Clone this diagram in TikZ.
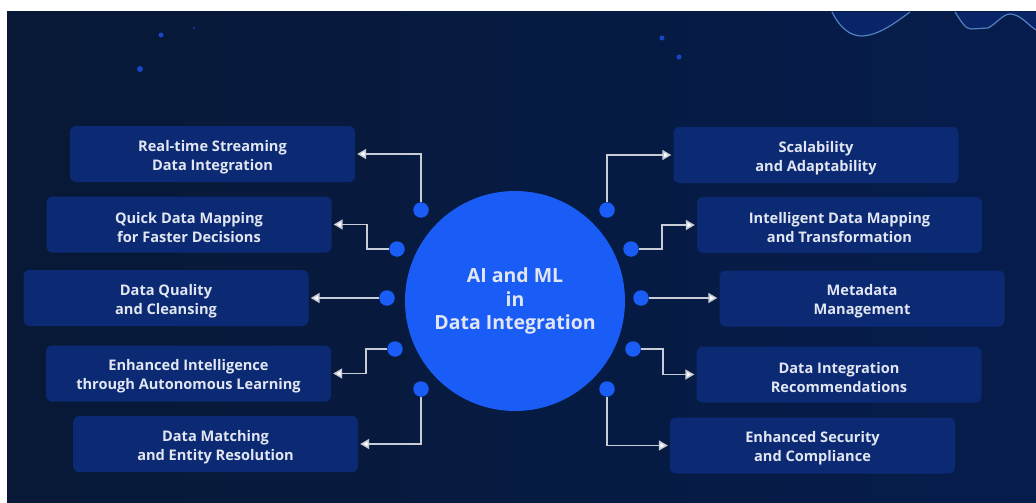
\documentclass[tikz,border=0pt]{standalone}
\usepackage{fontspec}
\setmainfont{Open Sans}
\usetikzlibrary{arrows.meta,calc}
\definecolor{bgL}{RGB}{7,25,54}
\definecolor{bgR}{RGB}{6,28,76}
\definecolor{hub}{RGB}{26,92,246}
\definecolor{boxc}{RGB}{12,42,115}
\definecolor{linec}{RGB}{200,204,214}
\definecolor{txt}{RGB}{225,230,242}
\definecolor{wavefill}{RGB}{10,36,104}
\definecolor{wavec}{RGB}{80,130,190}
\definecolor{star}{RGB}{25,70,200}
\tikzset{
  x=1pt, y=-1pt,
  infobox/.style={rounded corners=6pt, fill=boxc, minimum width=285pt, minimum height=56pt, inner sep=0pt},
  boxtext/.style={align=center, text=txt, font=\fontsize{14.6}{19}\selectfont\bfseries, inner sep=0pt, yshift=-3pt},
  hubnode/.style={circle, fill=hub, minimum size=220pt, inner sep=0pt, align=center,
    text=txt, font=\fontsize{19.5}{23.5}\selectfont\bfseries},
  dotnode/.style={circle, fill=hub, minimum size=15.5pt, inner sep=0pt},
  conn/.style={draw=linec, line width=1.5pt, -{Triangle[length=9pt,width=10pt,fill=white]}, shorten >=2pt}
}
\begin{document}
\begin{tikzpicture}
\useasboundingbox (0,0) rectangle (1036,503);
\fill[white] (0,0) rectangle (1036,503);
\shade[left color=bgL, right color=bgR] (7,12) rectangle (1036,503);
% top-right waves
\fill[wavefill] (832,12) .. controls (840,28) and (850,36) .. (862,36) .. controls (880,35) and (896,22) .. (910,12) -- cycle;
\fill[wavefill] (955,12) .. controls (961,21) and (965,29) .. (971,29) -- (988,28)
  .. controls (996,24) and (1003,14) .. (1010,14) .. controls (1020,14) and (1028,25) .. (1036,30) -- (1036,12) -- cycle;
\draw[draw=wavec, line width=1.2pt]
  (832,12) .. controls (840,28) and (850,36) .. (862,36) .. controls (880,35) and (896,22) .. (910,12);
\draw[draw=wavec, line width=1.2pt]
  (955,12) .. controls (961,21) and (965,29) .. (971,29) -- (988,28)
  .. controls (996,24) and (1003,14) .. (1010,14) .. controls (1020,14) and (1028,25) .. (1036,30);
% stars
\fill[star] (161,35) circle (2.5);
\fill[star] (140,69) circle (3);
\fill[star] (194,28) circle (1);
\fill[star] (662,38) circle (2.5);
\fill[star] (679,57) circle (2.5);
% hub
\node[hubnode, yshift=-3pt] (hub) at (515,298) {AI and ML\\in\\Data Integration};
% boxes
\node[infobox, label={[boxtext]center:{Real-time Streaming\\Data Integration}}] (L1) at (212.5,154) {};
\node[infobox, label={[boxtext]center:{Quick Data Mapping\\for Faster Decisions}}] (L2) at (189,224.5) {};
\node[infobox, label={[boxtext]center:{Data Quality\\and Cleansing}}] (L3) at (166,298) {};
\node[infobox, label={[boxtext]center:{Enhanced Intelligence\\through Autonomous Learning}}] (L4) at (188.5,373.5) {};
\node[infobox, label={[boxtext]center:{Data Matching\\and Entity Resolution}}] (L5) at (215.5,444) {};
\node[infobox, label={[boxtext]center:{Scalability\\and Adaptability}}] (R1) at (816,155) {};
\node[infobox, label={[boxtext]center:{Intelligent Data Mapping\\and Transformation}}] (R2) at (839.5,225) {};
\node[infobox, label={[boxtext]center:{Metadata\\Management}}] (R3) at (862,298.5) {};
\node[infobox, label={[boxtext]center:{Data Integration\\Recommendations}}] (R4) at (839,374.5) {};
\node[infobox, label={[boxtext]center:{Enhanced Security\\and Compliance}}] (R5) at (812.5,445.5) {};
% dots
\node[dotnode] (dl1) at (421,210) {};
\node[dotnode] (dl2) at (397,249) {};
\node[dotnode] (dl3) at (387,298) {};
\node[dotnode] (dl4) at (395,349) {};
\node[dotnode] (dl5) at (421,389) {};
\node[dotnode] (dr1) at (607,210) {};
\node[dotnode] (dr2) at (631,249) {};
\node[dotnode] (dr3) at (641,298) {};
\node[dotnode] (dr4) at (633,349) {};
\node[dotnode] (dr5) at (607,389) {};
% connectors
\draw[conn] (dl1) |- (L1.east);
\draw[conn] (dl2) -- ($(dl2)+(-30,0)$) |- (L2.east);
\draw[conn] (dl3) -- (dl3 -| L3.east);
\draw[conn] (dl4) -- ($(dl4)+(-29,0)$) |- (L4.east);
\draw[conn] (dl5) |- (L5.east);
\draw[conn] (dr1) |- (R1.west);
\draw[conn] (dr2) -- ($(dr2)+(31,0)$) |- (R2.west);
\draw[conn] (dr3) -- (dr3 -| R3.west);
\draw[conn] (dr4) -- ($(dr4)+(30,0)$) |- (R4.west);
\draw[conn] (dr5) |- (R5.west);
\end{tikzpicture}
\end{document}
